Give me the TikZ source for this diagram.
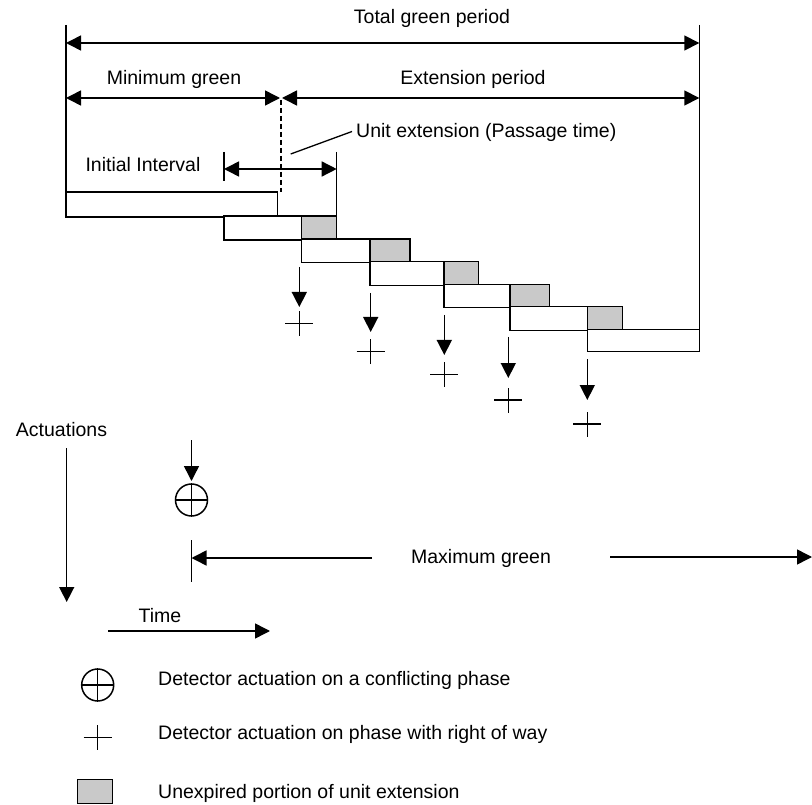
\documentclass[tikz,border=0pt]{standalone}
\usepackage{fontspec}
\setmainfont{Liberation Sans}
\usetikzlibrary{arrows.meta}

\definecolor{unexpired}{gray}{0.79}

\tikzset{
  line/.style={line width=1.5pt, line cap=butt},
  tip/.tip={Triangle[length=15pt,width=15pt]},
  tri/.style={-tip},
  dbl/.style={tip-tip},
  lbl/.style={inner sep=0pt, font=\fontsize{19.5}{22}\selectfont, anchor=base},
  lblw/.style={lbl, anchor=base west},
  plain/.style={line, draw=black, fill=white},
  shaded/.style={line, draw=black, fill=unexpired},
}

% draws a "+" actuation mark centred on a coordinate
\newcommand{\actmark}[2]{%
  \draw[line] ([xshift=-14pt]#1) -- ([xshift=14pt]#1);
  \draw[line] ([yshift=-12.5pt]#1) -- ([yshift=12.5pt]#1);
  \coordinate (#2) at (#1);
}

\begin{document}
\begin{tikzpicture}[x=1pt, y=-1pt]
\useasboundingbox (0,0) rectangle (812,805);

% ---- period bounds -------------------------------------------------------
\coordinate (gs) at (66,25);
\coordinate (ge) at (699.3,25);
\draw[line] (gs) -- (66,192);
\draw[line] (ge) -- (699.3,329);

\coordinate (tgL) at (66,43);
\coordinate (tgR) at (699.3,43);
\draw[line, dbl] (tgL) -- (tgR);
\node[lbl] (tglabel) at (432,24) {Total green period};

\coordinate (mgL) at (66,98);
\coordinate (mgR) at (280,98);
\coordinate (epL) at (282,98);
\coordinate (epR) at (699.3,98);
\draw[line, dbl] (mgL) -- (mgR);
\draw[line, dbl] (epL) -- (epR);
\node[lbl] (mglabel) at (174,85) {Minimum green};
\node[lbl] (eplabel) at (473,85) {Extension period};

\coordinate (dashT) at (281,100);
\coordinate (dashB) at (281,192);
\draw[line width=1.3pt, dash pattern=on 5pt off 3pt] (dashT) -- (dashB);

% ---- unit extension -----------------------------------------------------
\coordinate (ueL) at (224,169);
\coordinate (ueR) at (336.7,169);
\draw[line] (224,152) -- (224,181);
\draw[line] (336.7,152) -- (336.7,216);
\draw[line, dbl] (ueL) -- (ueR);
\node[lbl] (iilabel) at (143,171.7) {Initial Interval};

\node[lblw] (uelabel) at (356,138) {Unit extension (Passage time)};
\coordinate (leadA) at (290.7,154);
\coordinate (leadB) at (352,131.5);
\draw[line width=1.3pt] (leadA) -- (leadB);

% ---- interval bars ------------------------------------------------------
\draw[plain] (66,192) rectangle (277.7,217);
\draw[plain] (224,216) rectangle (301.7,240);
\draw[shaded] (301.7,216) rectangle (336.7,240);
\draw[plain] (301.7,239) rectangle (370,262.5);
\draw[shaded] (370,239) rectangle (410,262.5);
\draw[plain] (370,261.5) rectangle (444,285.3);
\draw[shaded] (444,261.5) rectangle (478.3,285.3);
\draw[plain] (444,284.3) rectangle (510,307.7);
\draw[shaded] (510,284.3) rectangle (549.3,307.7);
\draw[plain] (510,306.7) rectangle (587.3,330.7);
\draw[shaded] (587.3,306.7) rectangle (622.3,330.7);
\draw[plain] (587.3,329.5) rectangle (699.3,351.3);

% ---- actuations on phase with right of way -----------------------------
\coordinate (a1) at (299.3,267);
\coordinate (b1) at (299.3,307);
\draw[line, tri] (a1) -- (b1);
\actmark{299.3,323.3}{p1}

\coordinate (a2) at (370.7,293);
\coordinate (b2) at (370.7,332);
\draw[line, tri] (a2) -- (b2);
\actmark{370.7,351.7}{p2}

\coordinate (a3) at (444.3,315);
\coordinate (b3) at (444.3,355);
\draw[line, tri] (a3) -- (b3);
\actmark{444.3,374.3}{p3}

\coordinate (a4) at (508.3,337);
\coordinate (b4) at (508.3,378);
\draw[line, tri] (a4) -- (b4);
\actmark{508.3,400}{p4}

\coordinate (a5) at (587.3,359);
\coordinate (b5) at (587.3,400);
\draw[line, tri] (a5) -- (b5);
\actmark{587.3,424}{p5}

% ---- axes ---------------------------------------------------------------
\node[lbl] (actlabel) at (61.5,436.7) {Actuations};
\coordinate (axT) at (66.7,448);
\coordinate (axB) at (66.7,602);
\draw[line, tri] (axT) -- (axB);

\node[lbl] (timelabel) at (160,622.7) {Time};
\coordinate (txL) at (108,631);
\coordinate (txR) at (270,631);
\draw[line, tri] (txL) -- (txR);

% ---- conflicting call and maximum green ---------------------------------
\coordinate (cA) at (191.5,440);
\coordinate (cB) at (191.5,481);
\draw[line, tri] (cA) -- (cB);
\node[draw, line, circle, minimum size=32pt, inner sep=0pt] (conf) at (191.5,500) {};
\draw[line] (conf.west) -- (conf.east);
\draw[line] (conf.north) -- (conf.south);

\draw[line] (191.5,540) -- (191.5,582);
\coordinate (maxL) at (191.5,558);
\coordinate (maxM) at (372,558);
\coordinate (maxN) at (610,557);
\coordinate (maxR) at (812,557);
\draw[line, tri] (maxM) -- (maxL);
\draw[line, tri] (maxN) -- (maxR);
\node[lbl] (maxlabel) at (481,563) {Maximum green};

% ---- legend -------------------------------------------------------------
\node[draw, line, circle, minimum size=32pt, inner sep=0pt] (lgc) at (97.7,685) {};
\draw[line] (lgc.west) -- (lgc.east);
\draw[line] (lgc.north) -- (lgc.south);
\node[lblw] (lgctext) at (158,685) {Detector actuation on a conflicting phase};

\actmark{97.7,737.3}{lgp}
\node[lblw] (lgptext) at (158,739.3) {Detector actuation on phase with right of way};

\draw[shaded] (77.3,779.3) rectangle (112.7,803.3);
\node[lblw] (lgstext) at (158,798.3) {Unexpired portion of unit extension};
\end{tikzpicture}
\end{document}
